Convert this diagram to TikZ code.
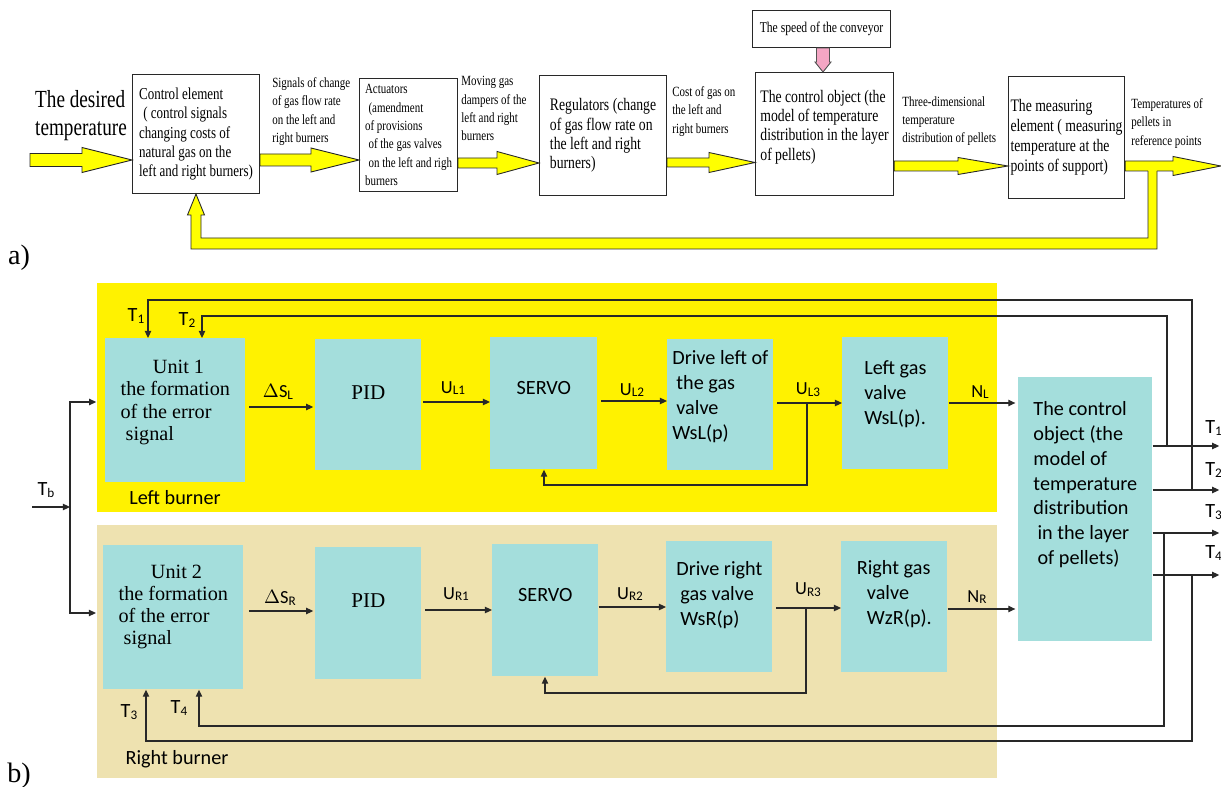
\documentclass[tikz,border=0pt]{standalone}
\usepackage{fontspec}
\setmainfont{Liberation Serif}
\newfontfamily\nserif[FakeStretch=0.78]{Liberation Serif}
\newfontfamily\calib{Carlito}
\usetikzlibrary{calc,arrows.meta}
\definecolor{cyb}{RGB}{164,222,220}
\definecolor{ylw}{RGB}{255,242,0}
\definecolor{bge}{RGB}{238,226,176}
\definecolor{fatY}{RGB}{255,255,0}
\definecolor{pnk}{RGB}{244,166,196}
\definecolor{lnc}{RGB}{40,40,40}
\newcommand\fz[2]{\fontsize{#1}{#2}\selectfont}
\newcommand\sbx[1]{\raisebox{-0.2ex}{\fontsize{7.5}{8}\selectfont #1}}
\newcommand\fatarrow[5]{%
  \draw[fat] ($(#1)+(0,-#3)$) -- ($(#2)+(-#5,-#3)$) -- ($(#2)+(-#5,-#4)$) -- (#2) -- ($(#2)+(-#5,#4)$) -- ($(#2)+(-#5,#3)$) -- ($(#1)+(0,#3)$) -- cycle;}
\begin{document}
\begin{tikzpicture}[x=0.02cm,y=-0.02cm,
  wh/.style 2 args={minimum width=#1*0.02cm, minimum height=#2*0.02cm},
  wbox/.style={draw=lnc, line width=0.6pt, fill=white, inner sep=0pt, anchor=north west, align=left},
  cbox/.style={fill=cyb, inner sep=0pt, anchor=north west, align=left},
  serifbox/.style={font=\fz{11.5}{12.6}},
  sansbox/.style={font=\calib\fz{11.5}{14.2}},
  fat/.style={draw=lnc, line width=0.5pt, fill=fatY, line join=miter},
  arr/.style={draw=lnc, line width=0.7pt, -{Triangle[length=4pt,width=3.6pt]}},
  plain/.style={draw=lnc, line width=0.7pt},
  lbl/.style={inner sep=0pt, font=\calib\fz{10.5}{12}},
  toplbl/.style={inner sep=0pt, anchor=north west, align=left, font=\nserif\fz{8}{10.5}},
]
\useasboundingbox (0,0) rectangle (1221,787);

% ---------------- part a ----------------
\node[font=\nserif\fz{14}{16}, align=left, inner sep=0pt] (des) at (81,116) {The desired\\temperature};
\node[wbox, wh={127}{119}, font=\nserif\fz{9.5}{11}] (ctrl) at (132,74)
  {Control element\\\hspace{0.25em}( control signals\\changing costs of\\natural gas on the\\left and right burners)};
\node[wbox, wh={98}{113}, font=\nserif\fz{8}{10.4}] (act) at (359,78)
  {Actuators\\\hspace{0.25em}(amendment\\of provisions\\\hspace{0.25em}of the gas valves\\\hspace{0.25em}on the left and righ\\burners};
\node[wbox, wh={127}{120}, font=\nserif\fz{10}{11}] (reg) at (539,75)
  {Regulators (change\\of gas flow rate on\\the left and right\\burners)};
\node[wbox, wh={138}{123}, font=\nserif\fz{10}{11}, text depth=10pt] (cobjA) at (755,72)
  {The control object (the\\model of temperature\\distribution in the layer\\of pellets)};
\node[wbox, wh={116}{122}, font=\nserif\fz{10}{11.3}] (meas) at (1008,76)
  {The measuring\\element ( measuring\\temperature at the\\points of support)};
\node[wbox, wh={138}{37}, font=\nserif\fz{8.5}{10}] (speed) at (752,10) {The speed of the conveyor};

\node[toplbl] (sig) at (272,77) {Signals of change\\of gas flow rate\\on the left and\\right burners};
\node[toplbl] (mov) at (461,76) {Moving gas\\dampers of the\\left and right\\burners};
\node[toplbl] (cost) at (672,86) {Cost of gas on\\the left and\\right burners};
\node[toplbl] (three) at (902,96) {Three-dimensional\\temperature\\distribution of pellets};
\node[toplbl] (tempr) at (1131,98) {Temperatures of\\pellets in\\reference points};

\coordinate (in0) at (30,160);
\coordinate (a1e) at (ctrl.west |- 0,160);
\coordinate (a2s) at (ctrl.east |- 0,160);
\coordinate (a2e) at (act.west |- 0,160);
\coordinate (a3s) at (act.east |- 0,163);
\coordinate (a3e) at (reg.west |- 0,163);
\coordinate (a4s) at (reg.east |- 0,162.5);
\coordinate (a4e) at (cobjA.west |- 0,162.5);
\coordinate (a5s) at (cobjA.east |- 0,166);
\coordinate (a5e) at (meas.west |- 0,166);
\coordinate (a6s) at (meas.east |- 0,166);
\coordinate (out0) at (1221,166);

\fatarrow{in0}{a1e}{6.5}{12.5}{50}
\fatarrow{a2s}{a2e}{6}{12}{48}
\fatarrow{a3s}{a3e}{5}{11.5}{42}
\fatarrow{a4s}{a4e}{4.5}{10}{46}
\fatarrow{a5s}{a5e}{5}{8.5}{50}
\fatarrow{a6s}{out0}{5}{9.5}{48}

% feedback (yellow)
\fill[fatY] (1148,169) -- (1157,169) -- (1157,249) -- (191,249) -- (191,215) -- (187.5,215) -- (ctrl.south -| 196,0) -- (204.5,215) -- (201,215) -- (201,238) -- (1148,238) -- cycle;
\draw[draw=lnc, line width=0.5pt, line join=miter] (1148,171) -- (1148,238) -- (201,238) -- (201,215) -- (204.5,215) -- (ctrl.south -| 196,0) -- (187.5,215) -- (191,215) -- (191,249) -- (1157,249) -- (1157,171);

% pink arrow
\coordinate (pk1) at (speed.south -| 823,0);
\coordinate (pk2) at (cobjA.north -| 823,0);
\draw[draw=lnc!80, line width=0.5pt, fill=pnk] ($(pk1)+(-6.5,0)$) -- ($(pk1)+(6.5,0)$) -- ($(pk2)+(6.5,-10)$) -- ($(pk2)+(8,-10)$) -- (pk2) -- ($(pk2)+(-8,-10)$) -- ($(pk2)+(-6.5,-10)$) -- cycle;

\node[font=\fz{16}{18}, inner sep=0pt] (la) at (19,258) {a)};

% ---------------- part b ----------------
\fill[ylw] (97,283) rectangle (997,512);
\fill[bge] (97,525) rectangle (997,778);

\node[cbox, wh={140}{144}, serifbox, text depth=11.5pt] (unit1) at (105,338)
  {\hspace{1.6em}Unit 1\\the formation\\of the error\\\hspace{0.25em}signal};
\node[cbox, wh={106}{131}, font=\fz{12}{13}, text depth=13.6pt] (pidL) at (315,339) {PID};
\node[cbox, wh={107}{132}, sansbox, text depth=17pt] (servoL) at (490,337) {SERVO};
\node[cbox, wh={106}{131}, sansbox, text depth=11pt] (driveL) at (667,339)
  {Drive left of\\\hspace{0.2em}the gas\\\hspace{0.2em}valve\\WsL(p)};
\node[cbox, wh={106}{132}, sansbox, text depth=12pt] (valveL) at (842,337) {Left gas\\valve\\WsL(p).};
\node[cbox, wh={134}{264}, sansbox, text depth=30pt] (cobj) at (1018,377)
  {The control\\object (the\\model of\\temperature\\distribution\\\hspace{0.2em}in the layer\\\hspace{0.2em}of pellets)};

\node[cbox, wh={140}{144}, serifbox, text depth=14pt] (unit2) at (103,545)
  {\hspace{1.6em}Unit 2\\the formation\\of the error\\\hspace{0.25em}signal};
\node[cbox, wh={106}{132}, font=\fz{12}{13}, text depth=14.7pt] (pidR) at (315,547) {PID};
\node[cbox, wh={106}{132}, sansbox, text depth=17pt] (servoR) at (492,544) {SERVO};
\node[cbox, wh={106}{131}, sansbox, text depth=15.5pt] (driveR) at (666,541)
  {Drive right\\\hspace{0.2em}gas valve\\\hspace{0.2em}WsR(p)};
\node[cbox, wh={106}{131}, sansbox, text depth=16.5pt] (valveR) at (841,541)
  {Right gas\\\hspace{0.5em}valve\\\hspace{0.5em}WzR(p).};

% left burner chain
\draw[arr, shorten <=2pt, shorten >=1pt] (unit1.east |- 0,407) -- (pidL.west |- 0,407);
\draw[arr, shorten <=1pt] (pidL.east |- 0,402) -- (servoL.west |- 0,402);
\draw[arr, shorten <=2pt] (servoL.east |- 0,401) -- (driveL.west |- 0,401);
\draw[arr, shorten <=2pt] (driveL.east |- 0,403) -- (valveL.west |- 0,403);
\draw[arr, shorten >=1.5pt] (valveL.east |- 0,403) -- (cobj.west |- 0,403);
\coordinate (bl) at (807,403);
\draw[arr] (bl) |- (544,485) -- (servoL.south -| 544,0);

\node[lbl] (dsl) at (278,392) {$\Delta$S\sbx{L}};
\node[lbl] (ul1) at (453,388) {U\sbx{L1}};
\node[lbl] (ul2) at (632,390) {U\sbx{L2}};
\node[lbl] (ul3) at (808,390) {U\sbx{L3}};
\node[lbl] (nl) at (980,392) {N\sbx{L}};

% right burner chain
\draw[arr, shorten <=3pt, shorten >=1pt] (unit2.east |- 0,611) -- (pidR.west |- 0,611);
\draw[arr, shorten <=2pt] (pidR.east |- 0,610) -- (servoR.west |- 0,610);
\draw[arr] (servoR.east |- 0,607) -- (driveR.west |- 0,607);
\draw[arr, shorten <=2pt] (driveR.east |- 0,608) -- (valveR.west |- 0,608);
\draw[arr, shorten >=1.5pt] (valveR.east |- 0,609) -- (cobj.west |- 0,609);
\coordinate (br) at (806,608);
\draw[arr] (br) |- (545,693) -- (servoR.south -| 545,0);

\node[lbl] (dsr) at (280,598) {$\Delta$S\sbx{R}};
\node[lbl] (ur1) at (456,594) {U\sbx{R1}};
\node[lbl] (ur2) at (630,594) {U\sbx{R2}};
\node[lbl] (ur3) at (808,590) {U\sbx{R3}};
\node[lbl] (nr) at (977,597) {N\sbx{R}};

% input Tb
\coordinate (tbin) at (32,507);
\coordinate (tbj) at (70,507);
\draw[arr] (tbin) -- (tbj);
\draw[arr, shorten >=5pt] (tbj) |- (unit1.west |- 0,402);
\draw[arr, shorten >=4pt] (tbj) |- (unit2.west |- 0,613);
\node[lbl, font=\calib\fz{11.5}{13}] (tb) at (46,490) {T\sbx{b}};

% outputs
\coordinate (o1) at (1221,446);
\coordinate (o2) at (1221,490);
\coordinate (o3) at (1221,533);
\coordinate (o4) at (1221,575);
\draw[arr, shorten >=1pt] (cobj.east |- o1) -- (o1);
\draw[arr, shorten >=1pt] (cobj.east |- o2) -- (o2);
\draw[arr, shorten >=1pt] (cobj.east |- o3) -- (o3);
\draw[arr, shorten >=1pt] (cobj.east |- o4) -- (o4);
\node[lbl, font=\calib\fz{11.5}{13}, anchor=west] (t1o) at (1205,428) {T\sbx{1}};
\node[lbl, font=\calib\fz{11.5}{13}, anchor=west] (t2o) at (1205,470) {T\sbx{2}};
\node[lbl, font=\calib\fz{11.5}{13}, anchor=west] (t3o) at (1205,512) {T\sbx{3}};
\node[lbl, font=\calib\fz{11.5}{13}, anchor=west] (t4o) at (1205,553) {T\sbx{4}};

% feedback lines
\coordinate (b1) at (1167,446);
\coordinate (b2) at (1192,490);
\coordinate (b3) at (1164,533);
\coordinate (b4) at (1192,575);
\coordinate (c1) at (148,300);
\coordinate (c2) at (202,316);
\coordinate (c4) at (199,726);
\coordinate (c3) at (146,741);
\draw[arr] (b2) |- (c1) -- (unit1.north -| c1);
\draw[arr] (b1) |- (c2) -- (unit1.north -| c2);
\draw[arr] (b3) |- (c4) -- (unit2.south -| c4);
\draw[arr] (b4) |- (c3) -- (unit2.south -| c3);
\node[lbl, font=\calib\fz{11.5}{13}] (t1i) at (136,316) {T\sbx{1}};
\node[lbl, font=\calib\fz{11.5}{13}] (t2i) at (187,320) {T\sbx{2}};
\node[lbl, font=\calib\fz{11.5}{13}] (t3i) at (129,712) {T\sbx{3}};
\node[lbl, font=\calib\fz{11.5}{13}] (t4i) at (179,708) {T\sbx{4}};

\node[lbl, font=\calib\fz{11.5}{13}] (lb) at (175,498) {Left burner};
\node[lbl, font=\calib\fz{11.5}{13}] (rb) at (177,759) {Right burner};
\node[font=\fz{16}{18}, inner sep=0pt] (lbb) at (19,776) {b)};
\end{tikzpicture}
\end{document}
